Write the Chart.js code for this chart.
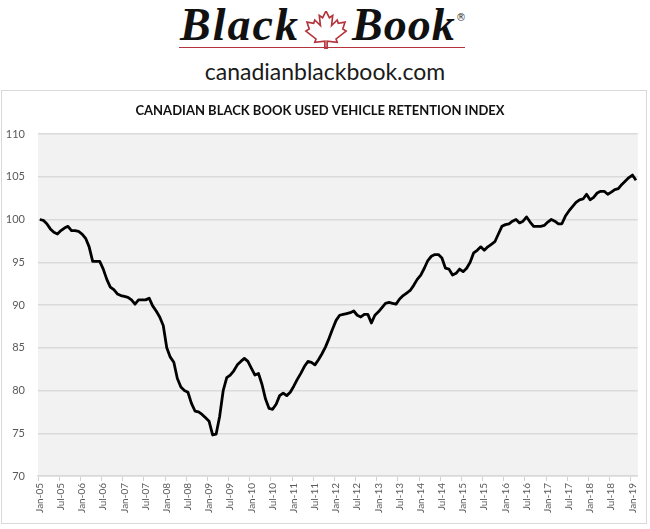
<!DOCTYPE html>
<html>
<head>
<meta charset="utf-8">
<script src="https://cdn.jsdelivr.net/npm/chart.js@4"></script>
<style>
  body { margin: 0; background: #fff; width: 650px; height: 529px; position: relative; overflow: hidden; }
  #logo { position: absolute; left: 0; top: 0; width: 650px; height: 88px; }
  .script { position: absolute; top: -2px; font-family: "Liberation Serif", serif; font-style: italic; font-weight: bold; font-size: 46px; color: #111; }
  #reg { position: absolute; left: 456px; top: 12px; font-family: "DejaVu Sans", sans-serif; font-size: 10px; color: #333; }
  #rule { position: absolute; left: 179px; top: 47px; width: 286px; height: 0; border-top: 1.5px solid #b5333a; }
  #site { position: absolute; left: 0; top: 57px; width: 650px; text-align: center; font-family: Lato, sans-serif; font-size: 23px; color: #1a1a1a; }
  #frame { position: absolute; left: 1px; top: 90px; width: 644px; height: 432px; border: 1px solid #d9d9d9; }
  #wrap { position: absolute; left: 0; top: 90px; width: 650px; height: 435px; }
</style>
</head>
<body>
<div id="logo">
  <div class="script" style="left:180px; letter-spacing:2px">Black</div>
  <svg style="position:absolute;left:303px;top:11px" width="46" height="38" viewBox="0 0 40 34">
    <polygon points="20,0 23,6 26,4 25,13 30,8 31,11 37,10 35,16 38,18 29,25 30,28 21,27 21,34 19,34 19,27 10,28 11,25 2,18 5,16 3,10 9,11 10,8 15,13 14,4 17,6"
      fill="none" stroke="#b5333a" stroke-width="1.5" stroke-linejoin="miter"/>
  </svg>
  <div class="script" style="left:352px; letter-spacing:1px">Book</div>
  <div id="reg">®</div>
  <div id="rule"></div>
  <div id="site">canadianblackbook.com</div>
</div>
<div id="frame"></div>
<div id="wrap"><canvas id="chart" width="650" height="435"></canvas></div>
<script>
// monthly index, Jan-05 .. Feb-19
const years = ["05", "06", "07", "08", "09", "10", "11", "12", "13", "14", "15", "16", "17", "18", "19"];
const months = ["Jan", "Feb", "Mar", "Apr", "May", "Jun", "Jul", "Aug", "Sep", "Oct", "Nov", "Dec"];

const retention = [
  100.0, 99.9, 99.5, 98.9, 98.5, 98.3, 98.7, 99.0, 99.2, 98.7, 98.7, 98.6,   // 2005
  98.3, 97.8, 96.8, 95.1, 95.1, 95.1, 94.2, 93.0, 92.1, 91.8, 91.3, 91.1,    // 2006
  91.0, 90.9, 90.6, 90.1, 90.6, 90.6, 90.6, 90.8, 89.9, 89.3, 88.6, 87.6,    // 2007
  85.0, 83.9, 83.3, 81.4, 80.4, 80.0, 79.8, 78.5, 77.6, 77.5, 77.2, 76.8,    // 2008
  76.4, 74.8, 74.9, 77.0, 80.0, 81.5, 81.8, 82.3, 83.0, 83.4, 83.75, 83.4,   // 2009
  82.6, 81.8, 82.0, 80.7, 79.0, 77.9, 77.8, 78.4, 79.4, 79.7, 79.4, 79.8,    // 2010
  80.5, 81.3, 82.0, 82.8, 83.4, 83.3, 83.0, 83.6, 84.3, 85.1, 86.1, 87.2,    // 2011
  88.2, 88.8, 88.9, 89.0, 89.1, 89.3, 88.8, 88.6, 88.9, 88.9, 87.9, 88.8,    // 2012
  89.2, 89.7, 90.2, 90.3, 90.2, 90.1, 90.7, 91.1, 91.4, 91.7, 92.3, 93.0,    // 2013
  93.5, 94.3, 95.2, 95.7, 95.9, 95.9, 95.5, 94.3, 94.2, 93.5, 93.7, 94.2,    // 2014
  93.9, 94.3, 95.0, 96.1, 96.4, 96.8, 96.4, 96.8, 97.1, 97.4, 98.3, 99.2,    // 2015
  99.4, 99.5, 99.8, 100.0, 99.6, 99.8, 100.3, 99.7, 99.2, 99.2, 99.2, 99.3,  // 2016
  99.7, 100.0, 99.8, 99.5, 99.5, 100.4, 101.0, 101.5, 102.0, 102.3, 102.4, 102.95, // 2017
  102.3, 102.6, 103.1, 103.3, 103.3, 102.95, 103.2, 103.5, 103.6, 104.1, 104.5, 104.9, // 2018
  105.2, 104.6                                                                  // 2019
];

const labels = [];
years.forEach((y) => months.forEach((m) => labels.push(m + "-" + y)));
labels.length = retention.length;

const yTicks = [70, 75, 80, 85, 90, 95, 100, 105, 110];

const plotBackground = {
  id: "plotBackground",
  beforeDraw(chart) {
    const { ctx, chartArea: a } = chart;
    ctx.save();
    ctx.fillStyle = "#f2f2f2";
    ctx.fillRect(a.left, a.top, a.right - a.left, a.bottom - a.top);
    ctx.restore();
  },
};

const tickColor = "#595959";

new Chart(document.getElementById("chart").getContext("2d"), {
  type: "line",
  data: {
    labels: labels,
    datasets: [{
      data: retention,
      borderColor: "#000",
      borderWidth: 2.8,
      pointRadius: 0,
      tension: 0,
      borderJoinStyle: "round",
      fill: false,
    }],
  },
  plugins: [plotBackground],
  options: {
    responsive: false,
    animation: false,
    events: [],
    layout: { padding: { top: 8, right: 10, bottom: 5, left: 0 } },
    plugins: {
      legend: { display: false },
      tooltip: { enabled: false },
      title: {
        display: true,
        text: "CANADIAN BLACK BOOK USED VEHICLE RETENTION INDEX",
        color: "#111",
        font: { family: "Lato", size: 13, weight: "bold" },
        padding: { top: 5, bottom: 15.4 },
      },
    },
    scales: {
      x: {
        type: "category",
        offset: true,
        afterFit: (scale) => { scale.height = 44; },
        grid: {
          offset: true,
          drawOnChartArea: false,
          tickLength: 5,
          lineWidth: 1,
          color: (c) => (c.index % 6 === 0 ? "#d0d0d0" : "rgba(0,0,0,0)"),
        },
        border: { color: "#d9d9d9", width: 1.5 },
        ticks: {
          autoSkip: false,
          minRotation: 90,
          maxRotation: 90,
          padding: 2,
          color: tickColor,
          font: { family: "Lato", size: 10 },
          callback: function (value, index) {
            return index % 6 === 0 ? labels[index] : "";
          },
        },
      },
      y: {
        min: 70,
        max: 110,
        afterFit: (scale) => { scale.width = 38; },
        afterBuildTicks: (scale) => { scale.ticks = yTicks.map((v) => ({ value: v })); },
        grid: { color: "#dadada", lineWidth: 1.5, drawTicks: false },
        border: { display: false },
        ticks: {
          padding: 13,
          color: tickColor,
          font: { family: "Lato", size: 11 },
        },
      },
    },
  },
});
</script>
</body>
</html>
